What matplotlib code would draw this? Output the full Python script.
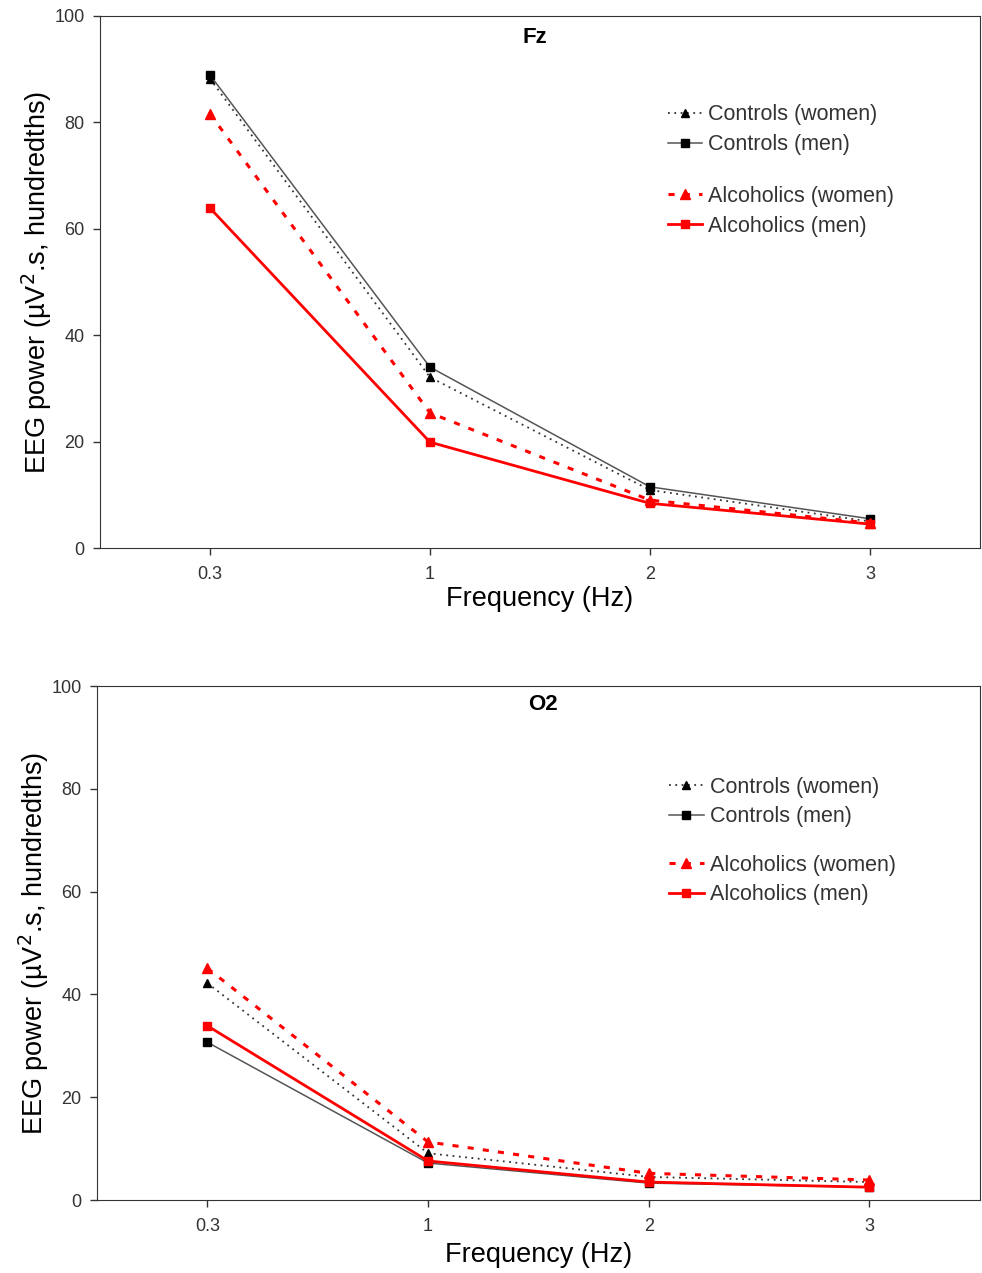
import numpy as np
import matplotlib.pyplot as plt

plt.rcParams['font.family'] = ['Liberation Sans', 'DejaVu Sans']

freqs = ["0.3", "1", "2", "3"]

# Fz
fz_ctrl_women = [88.2, 32.1, 10.9, 5.0]
fz_ctrl_men = [88.9, 34.0, 11.5, 5.5]
fz_alc_women = [81.6, 25.4, 9.0, 4.7]
fz_alc_men = [63.9, 19.9, 8.4, 4.5]

# O2
o2_ctrl_women = [42.2, 9.1, 4.5, 3.5]
o2_ctrl_men = [30.7, 7.2, 3.3, 2.5]
o2_alc_women = [45.1, 11.3, 5.2, 3.9]
o2_alc_men = [33.9, 7.6, 3.5, 2.5]

fig = plt.figure(figsize=(9.82, 12.73), dpi=100)
ax1 = fig.add_axes([0.1018, 0.5695, 0.8961, 0.418])
ax2 = fig.add_axes([0.0988, 0.0573, 0.899, 0.4038])

def draw(ax, cw, cm, aw, am, title, title_x, title_y, leg_x, leg_y1, leg_y2, xpad):
    x = np.arange(len(freqs))
    l1, = ax.plot(x, cw, color="#333333", ls=(0, (1, 2.5)), lw=1.3, marker="^", ms=6,
                  mfc="black", mec="black", label="Controls (women)")
    l2, = ax.plot(x, cm, color="#555555", ls="-", lw=1.1, marker="s", ms=6,
                  mfc="black", mec="black", label="Controls (men)")
    l3, = ax.plot(x, aw, color="red", ls=(0, (2, 3)), lw=2.2, marker="^", ms=7,
                  mfc="red", mec="red", label="Alcoholics (women)")
    l4, = ax.plot(x, am, color="red", ls="-", lw=2.0, marker="s", ms=6,
                  mfc="red", mec="red", label="Alcoholics (men)")
    ax.set_xlim(-0.5, 3.5)
    ax.set_ylim(0, 100)
    ax.set_xticks(x)
    ax.set_xticklabels(freqs)
    ax.set_yticks(np.arange(0, 101, 20))
    ax.tick_params(labelsize=13, direction="out", length=5, width=1, colors="#333333")
    ax.tick_params(axis="x", pad=8)
    ax.tick_params(axis="y", pad=6)
    for s in ax.spines.values():
        s.set_color("#333333")
    ax.set_xlabel("Frequency (Hz)", fontsize=19.5, labelpad=xpad)
    ax.set_ylabel("EEG power (\u00b5V$^2$.s, hundredths)", fontsize=19.5, labelpad=0)
    ax.text(title_x, title_y, title, transform=ax.transAxes, ha="center", va="center",
            fontsize=16, fontweight="bold")
    opts = dict(loc="center left", frameon=False, fontsize=15.5, handlelength=1.6,
                handletextpad=0.3, labelspacing=0.4, borderaxespad=0, borderpad=0)
    leg1 = ax.legend([l1, l2], ["Controls (women)", "Controls (men)"],
                     bbox_to_anchor=(leg_x, leg_y1), **opts)
    ax.add_artist(leg1)
    leg2 = ax.legend([l3, l4], ["Alcoholics (women)", "Alcoholics (men)"],
                     bbox_to_anchor=(leg_x, leg_y2), **opts)
    for lg in (leg1, leg2):
        for t in lg.get_texts():
            t.set_color("#333333")

draw(ax1, fz_ctrl_women, fz_ctrl_men, fz_alc_women, fz_alc_men, "Fz", 0.494, 0.96,
     0.645, 0.786, 0.633, 2)
draw(ax2, o2_ctrl_women, o2_ctrl_men, o2_alc_women, o2_alc_men, "O2", 0.505, 0.965,
     0.648, 0.774, 0.623, 5)

fig.savefig("out.png", dpi=100)
